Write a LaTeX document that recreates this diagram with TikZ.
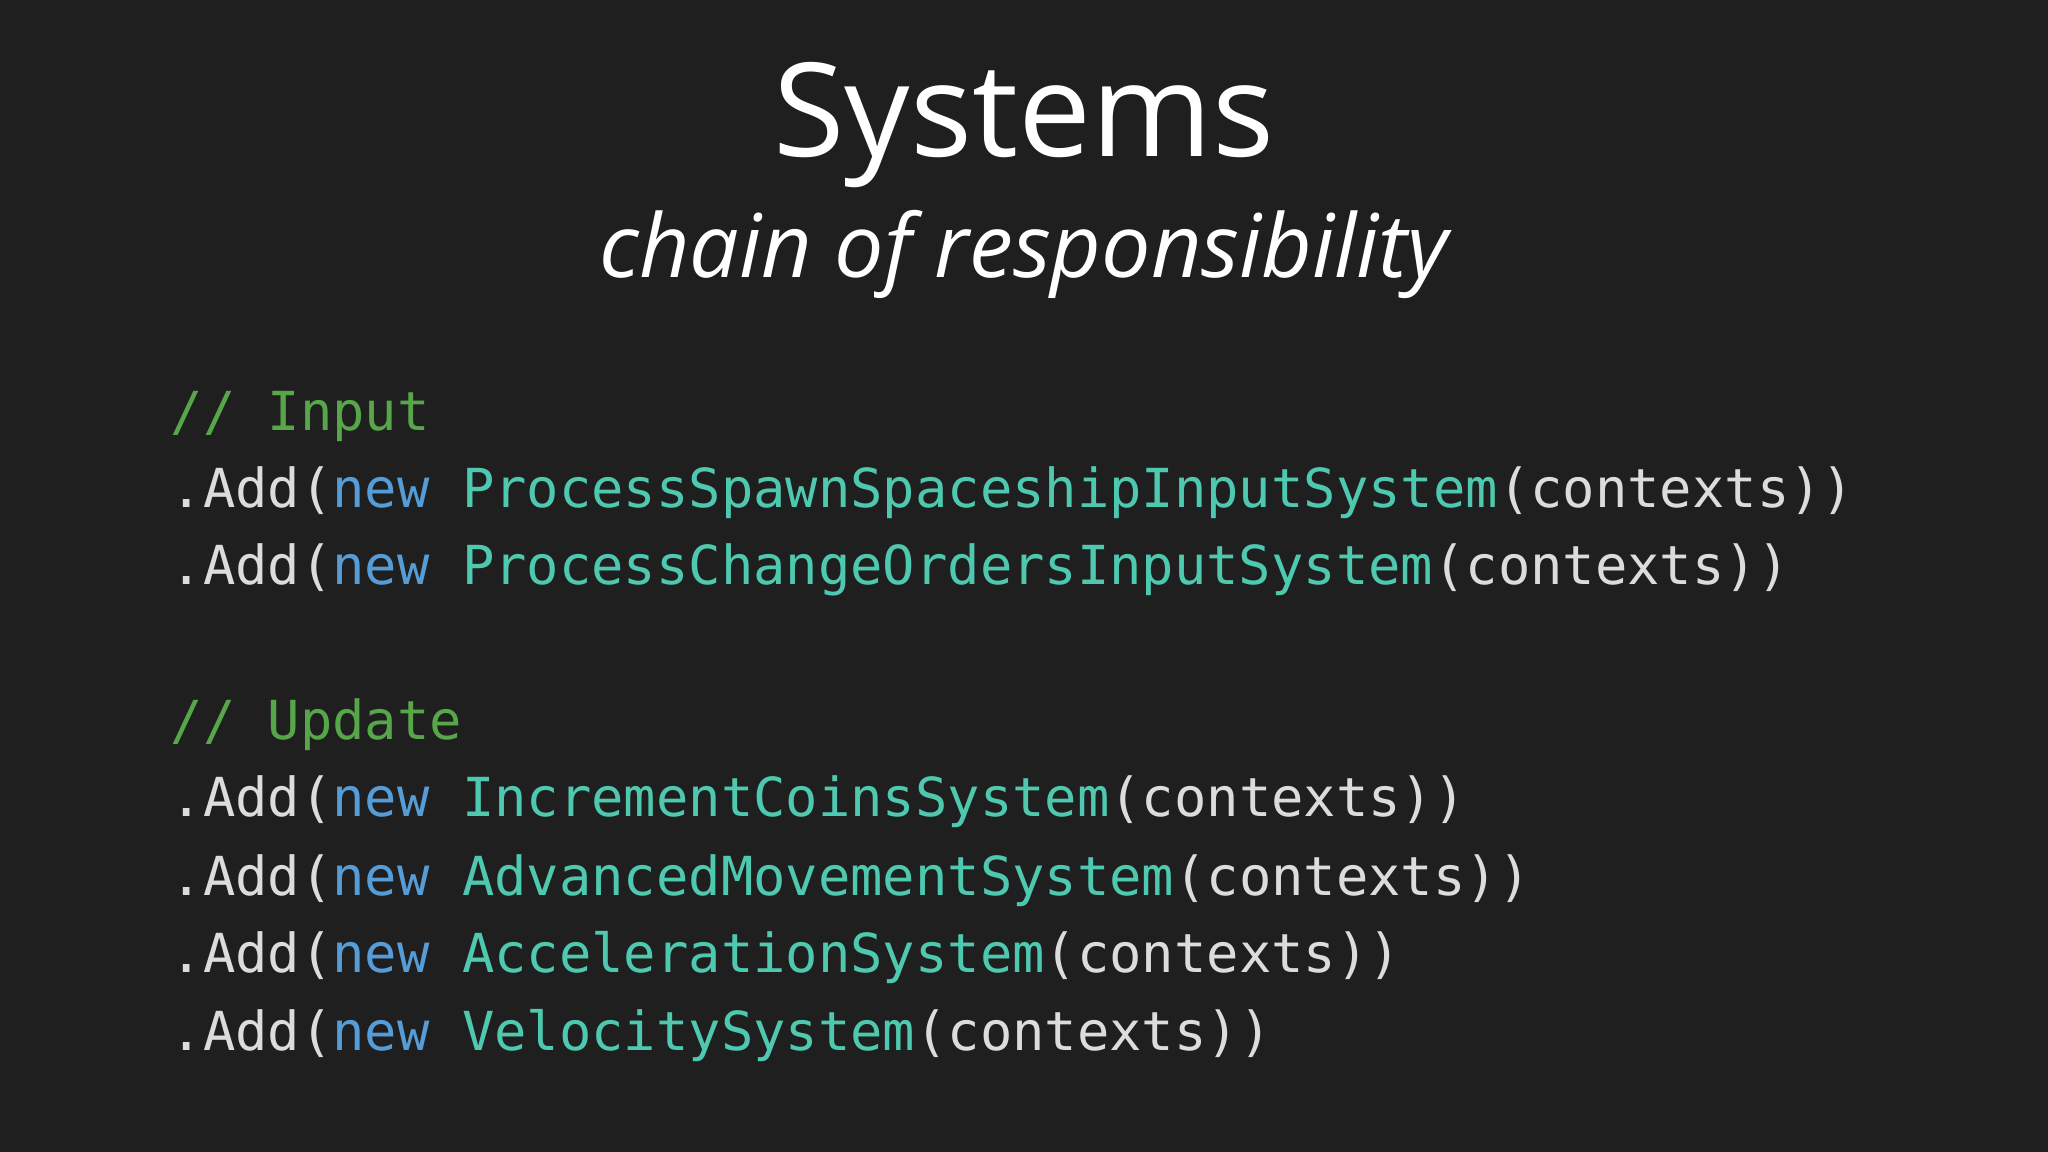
\documentclass[tikz,border=0pt]{standalone}
\usepackage{fontspec}
\setmainfont{Open Sans}
\newfontfamily\codefont{DejaVu Sans Mono}
\definecolor{bg}{HTML}{1F1F1F}
\definecolor{cmt}{HTML}{57A64A}
\definecolor{kw}{HTML}{569CD6}
\definecolor{typ}{HTML}{4EC9B0}
\definecolor{txt}{HTML}{DCDCDC}
\newcommand{\addline}[1]{\color{txt}.Add(\textcolor{kw}{new} \textcolor{typ}{#1}(contexts))}
\tikzset{code/.style={anchor=base west,inner sep=0,font=\codefont\fontsize{15.3pt}{18pt}\selectfont,text=txt}}
\begin{document}
\begin{tikzpicture}
\fill[bg] (0,0) rectangle (20.48,-11.52);
\useasboundingbox (0,0) rectangle (20.48,-11.52);
\node[anchor=base,inner sep=0,text=white,font=\fontsize{37pt}{40pt}\selectfont] (title) at (10.24,-1.57) {Systems};
\node[anchor=base,inner sep=0,text=white,font=\itshape\fontsize{25pt}{28pt}\selectfont] (sub) at (10.24,-2.78) {chain of responsibility};
\node[code,text=cmt] (c1) at (1.70,-4.31) {// Input};
\node[code] (l1) at (1.70,-5.07) {\addline{ProcessSpawnSpaceshipInputSystem}};
\node[code] (l2) at (1.70,-5.85) {\addline{ProcessChangeOrdersInputSystem}};
\node[code,text=cmt] (c2) at (1.70,-7.39) {// Update};
\node[code] (l3) at (1.70,-8.16) {\addline{IncrementCoinsSystem}};
\node[code] (l4) at (1.70,-8.95) {\addline{AdvancedMovementSystem}};
\node[code] (l5) at (1.70,-9.73) {\addline{AccelerationSystem}};
\node[code] (l6) at (1.70,-10.50) {\addline{VelocitySystem}};
\end{tikzpicture}
\end{document}
